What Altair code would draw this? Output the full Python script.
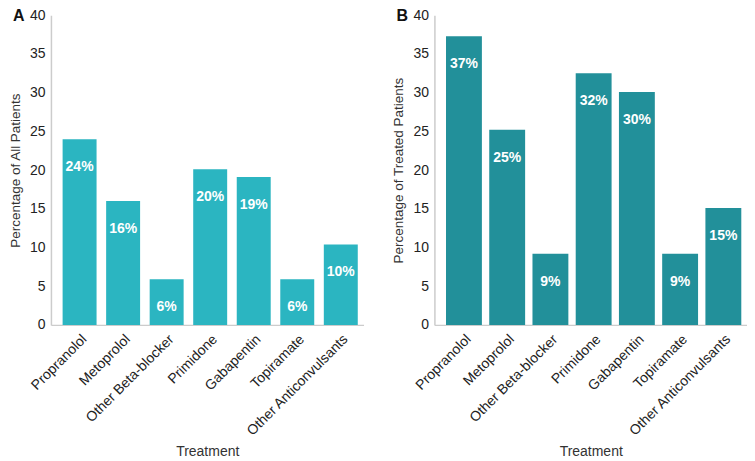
import altair as alt
import pandas as pd

treatments = ["Propranolol", "Metoprolol", "Other Beta-blocker", "Primidone",
              "Gabapentin", "Topiramate", "Other Anticonvulsants"]
pct_all = [24.0, 16.0, 5.9, 20.1, 19.1, 5.9, 10.4]
pct_treated = [37.3, 25.2, 9.2, 32.5, 30.1, 9.2, 15.1]
labels_all = ["24%", "16%", "6%", "20%", "19%", "6%", "10%"]
labels_treated = ["37%", "25%", "9%", "32%", "30%", "9%", "15%"]
y_ticks = [0, 5, 10, 15, 20, 25, 30, 35, 40]
panel_letters = ["A", "B"]
y_titles = ["Percentage of All Patients", "Percentage of Treated Patients"]
bar_colors = ["#2BB5C1", "#22909A"]

FONT = "Liberation Sans"
W, H = 313, 310


def panel(values, labels, letter, ytitle, color, pad_inner):
    df = pd.DataFrame({"Treatment": treatments, "pct": values, "label": labels})
    x = alt.X(
        "Treatment:N", sort=treatments, title="Treatment",
        scale=alt.Scale(paddingInner=pad_inner, paddingOuter=0.2, align=0.67),
        axis=alt.Axis(labelAngle=-45, labelFontSize=14, labelColor="#222222",
                      labelFont=FONT, labelPadding=7, ticks=False,
                      domainColor="#cccccc", domainWidth=1.5,
                      titleFont=FONT, titleFontSize=14, titleFontWeight="normal",
                      titleColor="#333333", titlePadding=6),
    )
    y = alt.Y(
        "pct:Q", title=ytitle,
        scale=alt.Scale(domain=[0, 40], nice=False),
        axis=alt.Axis(values=y_ticks, grid=False, ticks=False, labelPadding=6,
                      labelFontSize=14, labelColor="#222222", labelFont=FONT,
                      domainColor="#cccccc", domainWidth=1.5,
                      titleFont=FONT, titleFontSize=13.5, titleFontWeight="normal",
                      titleColor="#333333", titlePadding=7),
    )
    bars = alt.Chart(df).mark_bar(color=color).encode(x=x, y=y)
    text = alt.Chart(df).mark_text(
        color="white", fontWeight="bold", fontSize=14, font=FONT,
        baseline="middle", dy=28
    ).encode(x=x, y=y, text="label:N")
    let = alt.Chart(pd.DataFrame({"letter": [letter]})).mark_text(
        align="left", baseline="top", fontSize=16, fontWeight="bold", font=FONT,
        color="#111111"
    ).encode(x=alt.value(-38), y=alt.value(-7), text="letter:N")
    return alt.layer(bars, text, let).properties(width=W, height=H)


a = panel(pct_all, labels_all, panel_letters[0], y_titles[0], bar_colors[0], 0.22)
b = panel(pct_treated, labels_treated, panel_letters[1], y_titles[1], bar_colors[1], 0.17)

chart = alt.hconcat(a, b, spacing=71, bounds="flush").properties(
    padding=0
).configure_view(stroke=None)

chart.save("out.html", embed_options={"renderer": "svg", "actions": False})
